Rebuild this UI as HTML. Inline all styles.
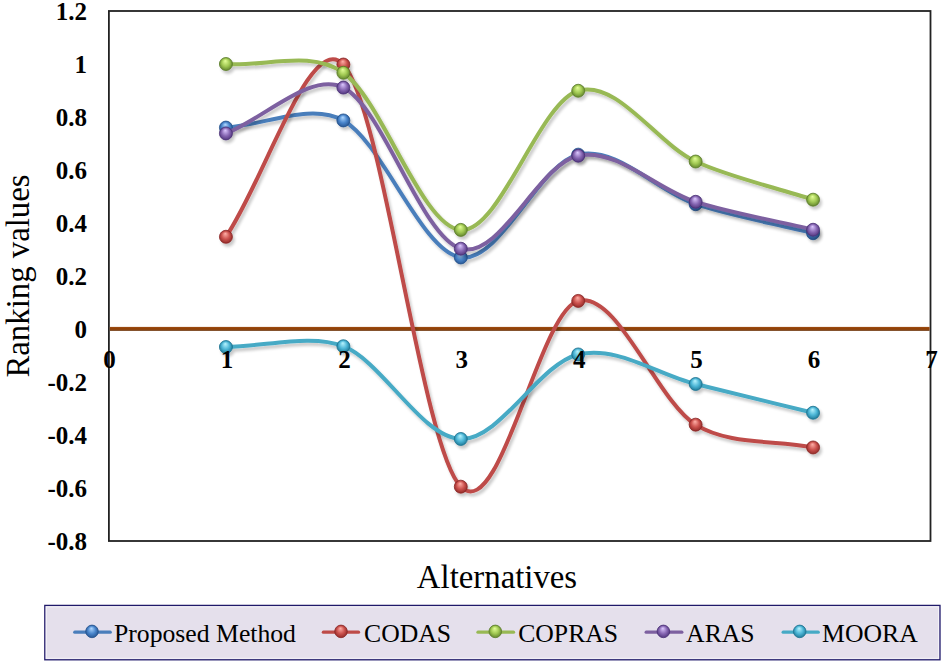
<!DOCTYPE html>
<html><head><meta charset="utf-8"><style>
html,body{margin:0;padding:0;background:#fff;}
body{width:944px;height:665px;overflow:hidden;}
svg{display:block;}
.tk{font-family:"Liberation Serif",serif;font-weight:bold;font-size:25px;fill:#000;}
.ttl{font-family:"Liberation Serif",serif;font-size:32.8px;fill:#000;}
.lg{font-family:"Liberation Serif",serif;font-size:25.7px;fill:#000;}
</style></head><body>
<svg width="944" height="665" viewBox="0 0 944 665">
<defs><linearGradient id="og" x1="0" y1="0" x2="0" y2="1"><stop offset="0" stop-color="#a0521a"/><stop offset="0.3" stop-color="#934004"/><stop offset="0.7" stop-color="#8d4510"/><stop offset="1" stop-color="#6e3e1c"/></linearGradient>
<filter id="sh" x="-5%" y="-5%" width="110%" height="110%"><feGaussianBlur in="SourceAlpha" stdDeviation="1.6"/><feOffset dx="1.5" dy="2.5" result="b"/><feComponentTransfer><feFuncA type="linear" slope="0.22"/></feComponentTransfer><feMerge><feMergeNode/><feMergeNode in="SourceGraphic"/></feMerge></filter>
<radialGradient id="g0" cx="50%" cy="50%" r="55%" fx="45%" fy="25%"><stop offset="0" stop-color="#b0d8ff"/><stop offset="0.55" stop-color="#4a86cc"/><stop offset="1" stop-color="#22508c"/></radialGradient>
<radialGradient id="g1" cx="50%" cy="50%" r="55%" fx="45%" fy="25%"><stop offset="0" stop-color="#ffb0a8"/><stop offset="0.55" stop-color="#cc524e"/><stop offset="1" stop-color="#8a2624"/></radialGradient>
<radialGradient id="g2" cx="50%" cy="50%" r="55%" fx="45%" fy="25%"><stop offset="0" stop-color="#e4ff98"/><stop offset="0.55" stop-color="#a0c852"/><stop offset="1" stop-color="#5a7c28"/></radialGradient>
<radialGradient id="g3" cx="50%" cy="50%" r="55%" fx="45%" fy="25%"><stop offset="0" stop-color="#dcc8ff"/><stop offset="0.55" stop-color="#8868b4"/><stop offset="1" stop-color="#4a3076"/></radialGradient>
<radialGradient id="g4" cx="50%" cy="50%" r="55%" fx="45%" fy="25%"><stop offset="0" stop-color="#b8f4ff"/><stop offset="0.55" stop-color="#4cb6d6"/><stop offset="1" stop-color="#1b7290"/></radialGradient></defs>
<rect x="108.9" y="11.0" width="821.6" height="530.0" fill="#fff" stroke="#222" stroke-width="1.8"/>
<rect x="109.8" y="326.90" width="819.8" height="4" fill="url(#og)"/>
<g filter="url(#sh)"><path d="M225.93,127.60 C265.07,125.21 310.48,102.27 343.36,120.44 C382.50,142.09 421.64,251.75 460.79,257.45 C499.93,263.15 539.07,163.51 578.21,154.63 C617.36,145.75 656.50,191.09 695.64,204.19 C728.52,215.19 773.93,223.53 813.07,233.20" fill="none" stroke="#4A7EBB" stroke-width="4" stroke-linecap="round" stroke-linejoin="round"/><circle cx="225.93" cy="127.60" r="6.5" fill="url(#g0)" stroke="#22508c" stroke-width="0.8"/><circle cx="343.36" cy="120.44" r="6.5" fill="url(#g0)" stroke="#22508c" stroke-width="0.8"/><circle cx="460.79" cy="257.45" r="6.5" fill="url(#g0)" stroke="#22508c" stroke-width="0.8"/><circle cx="578.21" cy="154.63" r="6.5" fill="url(#g0)" stroke="#22508c" stroke-width="0.8"/><circle cx="695.64" cy="204.19" r="6.5" fill="url(#g0)" stroke="#22508c" stroke-width="0.8"/><circle cx="813.07" cy="233.20" r="6.5" fill="url(#g0)" stroke="#22508c" stroke-width="0.8"/></g>
<g filter="url(#sh)"><path d="M225.93,236.78 C265.07,179.36 310.48,29.54 343.36,64.53 C382.50,106.18 421.64,447.28 460.79,486.67 C499.93,526.07 539.07,311.24 578.21,300.91 C617.36,290.57 656.50,400.24 695.64,424.66 C728.52,445.18 773.93,439.86 813.07,447.45" fill="none" stroke="#BE4B48" stroke-width="4" stroke-linecap="round" stroke-linejoin="round"/><circle cx="225.93" cy="236.78" r="6.5" fill="url(#g1)" stroke="#8a2624" stroke-width="0.8"/><circle cx="343.36" cy="64.53" r="6.5" fill="url(#g1)" stroke="#8a2624" stroke-width="0.8"/><circle cx="460.79" cy="486.67" r="6.5" fill="url(#g1)" stroke="#8a2624" stroke-width="0.8"/><circle cx="578.21" cy="300.91" r="6.5" fill="url(#g1)" stroke="#8a2624" stroke-width="0.8"/><circle cx="695.64" cy="424.66" r="6.5" fill="url(#g1)" stroke="#8a2624" stroke-width="0.8"/><circle cx="813.07" cy="447.45" r="6.5" fill="url(#g1)" stroke="#8a2624" stroke-width="0.8"/></g>
<g filter="url(#sh)"><path d="M225.93,64.00 C265.07,66.91 310.48,49.52 343.36,72.75 C382.50,100.39 421.64,226.89 460.79,229.89 C499.93,232.89 539.07,102.16 578.21,90.76 C617.36,79.37 656.50,143.37 695.64,161.52 C728.52,176.77 773.93,186.96 813.07,199.68" fill="none" stroke="#98B954" stroke-width="4" stroke-linecap="round" stroke-linejoin="round"/><circle cx="225.93" cy="64.00" r="6.5" fill="url(#g2)" stroke="#5a7c28" stroke-width="0.8"/><circle cx="343.36" cy="72.75" r="6.5" fill="url(#g2)" stroke="#5a7c28" stroke-width="0.8"/><circle cx="460.79" cy="229.89" r="6.5" fill="url(#g2)" stroke="#5a7c28" stroke-width="0.8"/><circle cx="578.21" cy="90.76" r="6.5" fill="url(#g2)" stroke="#5a7c28" stroke-width="0.8"/><circle cx="695.64" cy="161.52" r="6.5" fill="url(#g2)" stroke="#5a7c28" stroke-width="0.8"/><circle cx="813.07" cy="199.68" r="6.5" fill="url(#g2)" stroke="#5a7c28" stroke-width="0.8"/></g>
<g filter="url(#sh)"><path d="M225.93,133.43 C265.07,118.15 310.48,71.45 343.36,87.58 C382.50,106.80 421.64,237.35 460.79,248.71 C499.93,260.06 539.07,163.51 578.21,155.69 C617.36,147.87 656.50,189.46 695.64,201.80 C728.52,212.17 773.93,220.44 813.07,229.76" fill="none" stroke="#7D60A0" stroke-width="4" stroke-linecap="round" stroke-linejoin="round"/><circle cx="225.93" cy="133.43" r="6.5" fill="url(#g3)" stroke="#4a3076" stroke-width="0.8"/><circle cx="343.36" cy="87.58" r="6.5" fill="url(#g3)" stroke="#4a3076" stroke-width="0.8"/><circle cx="460.79" cy="248.71" r="6.5" fill="url(#g3)" stroke="#4a3076" stroke-width="0.8"/><circle cx="578.21" cy="155.69" r="6.5" fill="url(#g3)" stroke="#4a3076" stroke-width="0.8"/><circle cx="695.64" cy="201.80" r="6.5" fill="url(#g3)" stroke="#4a3076" stroke-width="0.8"/><circle cx="813.07" cy="229.76" r="6.5" fill="url(#g3)" stroke="#4a3076" stroke-width="0.8"/></g>
<g filter="url(#sh)"><path d="M225.93,347.02 C265.07,346.75 310.48,333.35 343.36,346.22 C382.50,361.55 421.64,437.61 460.79,438.98 C499.93,440.34 539.07,363.60 578.21,354.44 C617.36,345.28 656.50,374.27 695.64,383.99 C728.52,392.15 773.93,403.16 813.07,412.74" fill="none" stroke="#46AAC5" stroke-width="4" stroke-linecap="round" stroke-linejoin="round"/><circle cx="225.93" cy="347.02" r="6.5" fill="url(#g4)" stroke="#1b7290" stroke-width="0.8"/><circle cx="343.36" cy="346.22" r="6.5" fill="url(#g4)" stroke="#1b7290" stroke-width="0.8"/><circle cx="460.79" cy="438.98" r="6.5" fill="url(#g4)" stroke="#1b7290" stroke-width="0.8"/><circle cx="578.21" cy="354.44" r="6.5" fill="url(#g4)" stroke="#1b7290" stroke-width="0.8"/><circle cx="695.64" cy="383.99" r="6.5" fill="url(#g4)" stroke="#1b7290" stroke-width="0.8"/><circle cx="813.07" cy="412.74" r="6.5" fill="url(#g4)" stroke="#1b7290" stroke-width="0.8"/></g>
<text x="87" y="20.2" text-anchor="end" class="tk">1.2</text>
<text x="87" y="73.2" text-anchor="end" class="tk">1</text>
<text x="87" y="126.2" text-anchor="end" class="tk">0.8</text>
<text x="87" y="179.2" text-anchor="end" class="tk">0.6</text>
<text x="87" y="232.2" text-anchor="end" class="tk">0.4</text>
<text x="87" y="285.2" text-anchor="end" class="tk">0.2</text>
<text x="87" y="338.2" text-anchor="end" class="tk">0</text>
<text x="87" y="391.2" text-anchor="end" class="tk">-0.2</text>
<text x="87" y="444.2" text-anchor="end" class="tk">-0.4</text>
<text x="87" y="497.2" text-anchor="end" class="tk">-0.6</text>
<text x="87" y="550.2" text-anchor="end" class="tk">-0.8</text>
<text x="109.5" y="367.5" text-anchor="middle" class="tk">0</text>
<text x="226.9" y="367.5" text-anchor="middle" class="tk">1</text>
<text x="344.4" y="367.5" text-anchor="middle" class="tk">2</text>
<text x="461.8" y="367.5" text-anchor="middle" class="tk">3</text>
<text x="579.2" y="367.5" text-anchor="middle" class="tk">4</text>
<text x="696.6" y="367.5" text-anchor="middle" class="tk">5</text>
<text x="814.1" y="367.5" text-anchor="middle" class="tk">6</text>
<text x="931.5" y="367.5" text-anchor="middle" class="tk">7</text>
<text x="497" y="588" text-anchor="middle" class="ttl">Alternatives</text>
<text transform="translate(29,276) rotate(-90)" text-anchor="middle" class="ttl">Ranking values</text>
<rect x="44.8" y="605.4" width="895.2" height="54.4" fill="#E5E0EC" stroke="#201A6A" stroke-width="1.3"/>
<rect x="46.3" y="606.9" width="892.2" height="51.4" fill="none" stroke="#f4f2f8" stroke-width="1"/>
<line x1="74.8" y1="632.2" x2="110.2" y2="632.2" stroke="#4A7EBB" stroke-width="3.3" stroke-linecap="round"/>
<circle cx="92.0" cy="631.4" r="6.3" fill="url(#g0)" stroke="#22508c" stroke-width="0.8"/>
<text x="114.0" y="642" class="lg">Proposed Method</text>
<line x1="323.4" y1="632.2" x2="358.5" y2="632.2" stroke="#BE4B48" stroke-width="3.3" stroke-linecap="round"/>
<circle cx="341.0" cy="631.4" r="6.3" fill="url(#g1)" stroke="#8a2624" stroke-width="0.8"/>
<text x="364.0" y="642" class="lg">CODAS</text>
<line x1="478.0" y1="632.2" x2="513.5" y2="632.2" stroke="#98B954" stroke-width="3.3" stroke-linecap="round"/>
<circle cx="495.3" cy="631.4" r="6.3" fill="url(#g2)" stroke="#5a7c28" stroke-width="0.8"/>
<text x="518.2" y="642" class="lg">COPRAS</text>
<line x1="646.2" y1="632.2" x2="681.8" y2="632.2" stroke="#7D60A0" stroke-width="3.3" stroke-linecap="round"/>
<circle cx="663.4" cy="631.4" r="6.3" fill="url(#g3)" stroke="#4a3076" stroke-width="0.8"/>
<text x="686.1" y="642" class="lg">ARAS</text>
<line x1="783.2" y1="632.2" x2="818.2" y2="632.2" stroke="#46AAC5" stroke-width="3.3" stroke-linecap="round"/>
<circle cx="799.7" cy="631.4" r="6.3" fill="url(#g4)" stroke="#1b7290" stroke-width="0.8"/>
<text x="822.1" y="642" class="lg">MOORA</text>
</svg>
</body></html>
